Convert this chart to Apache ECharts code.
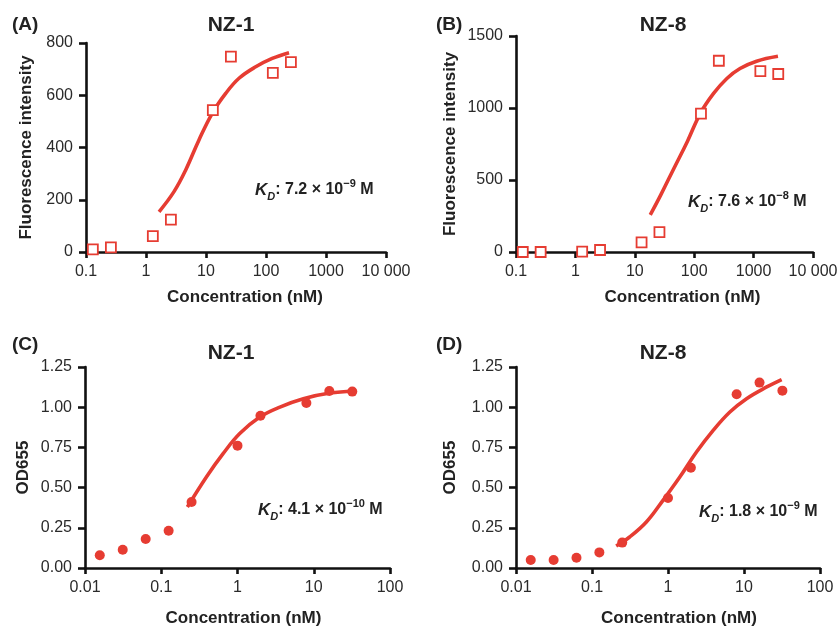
<!DOCTYPE html>
<html><head><meta charset="utf-8">
<script src="https://cdn.jsdelivr.net/npm/echarts@6/dist/echarts.min.js"></script>
<style>html,body{margin:0;padding:0;background:#fff}#c{width:840px;height:627px}</style>
</head><body><div id="c"></div>
<script>
// ---- data ----
const concA = [0.13, 0.26, 1.3, 2.6, 13, 26, 130, 260];
const valA  = [10, 18, 61, 124, 543, 748, 686, 727];
const fitAx = [1.65, 2.93, 4.59, 7.64, 12.7, 21.3, 35.5, 67.4, 127, 242];
const fitAy = [154, 231, 314, 429, 531, 607, 665, 709, 741, 763];

const concB = [0.13, 0.26, 1.3, 2.6, 13, 26, 130, 260, 1300, 2600];
const valB  = [0, 0, 2, 14, 67, 138, 961, 1328, 1256, 1236];
const fitBx = [18.2, 27.4, 45.7, 76.4, 127, 212, 355, 591, 1122, 2570];
const fitBy = [258, 397, 582, 766, 963, 1101, 1205, 1274, 1325, 1359];

const concCD = [0.015625, 0.03125, 0.0625, 0.125, 0.25, 1, 2, 8, 16, 32];
const valC  = [0.079, 0.114, 0.180, 0.232, 0.410, 0.761, 0.947, 1.026, 1.101, 1.097];
const fitCx = [0.22, 0.391, 0.647, 1.07, 1.96, 3.6, 7.3, 16.4, 33.2];
const fitCy = [0.379, 0.566, 0.711, 0.836, 0.939, 1.001, 1.053, 1.088, 1.099];

const valD  = [0.050, 0.050, 0.064, 0.097, 0.158, 0.435, 0.624, 1.080, 1.153, 1.103];
const fitDx = [0.208, 0.313, 0.519, 0.859, 1.43, 2.37, 3.93, 6.52, 10.8, 19.9, 31.3];
const fitDy = [0.137, 0.193, 0.286, 0.421, 0.566, 0.721, 0.856, 0.970, 1.053, 1.126, 1.172];

const xTicksAB = ['0.1', '1', '10', '100', '1000', '10 000'];   // exponents -1..4
const xTicksCD = ['0.01', '0.1', '1', '10', '100'];             // exponents -2..2
const titles = ['NZ-1', 'NZ-8', 'NZ-1', 'NZ-8'];
const panelLabels = ['(A)', '(B)', '(C)', '(D)'];
const kdMant = ['7.2', '7.6', '4.1', '1.8'];
const kdExp = ['−9', '−8', '−10', '−9'];

// ---- styling ----
const FONT = '"Liberation Sans", Arial, Helvetica, sans-serif';
const RED = '#e63c32';
const zip = (a, b) => a.map((v, i) => [v, b[i]]);

const grids = [
  {left: 86, top: 43, width: 300, height: 209, outerBoundsMode: 'none', containLabel: false},
  {left: 516, top: 36, width: 297, height: 216, outerBoundsMode: 'none', containLabel: false},
  {left: 85, top: 367, width: 305, height: 201, outerBoundsMode: 'none', containLabel: false},
  {left: 516, top: 367, width: 304, height: 201, outerBoundsMode: 'none', containLabel: false}
];

function xAxis(i, minE, maxE, labels, padL) {
  return {
    type: 'log', logBase: 10, gridIndex: i,
    min: Math.pow(10, minE), max: Math.pow(10, maxE), splitNumber: maxE - minE,
    name: 'Concentration (nM)', nameLocation: 'middle', nameGap: i < 2 ? 37 : 42,
    nameTextStyle: {fontFamily: FONT, fontWeight: 'bold', fontSize: 17, color: '#222', padding: [0, 0, 0, padL]},
    axisLine: {show: true, lineStyle: {color: '#111', width: 2.6}},
    axisTick: {show: true, length: 6, lineStyle: {color: '#111', width: 2.6}},
    minorTick: {show: false},
    splitLine: {show: false},
    axisLabel: {
      fontFamily: FONT, fontSize: 16, color: '#2a2a2a', margin: 12,
      showMinLabel: true, showMaxLabel: true,
      formatter: v => labels[Math.round(Math.log10(v)) - minE]
    }
  };
}
function yAxis(i, max, interval, name, gap, dec) {
  return {
    type: 'value', gridIndex: i, min: 0, max: max, interval: interval,
    name: name, nameLocation: 'middle', nameGap: gap,
    nameTextStyle: {fontFamily: FONT, fontWeight: 'bold', fontSize: 17, color: '#222'},
    axisLine: {show: true, lineStyle: {color: '#111', width: 2.6}},
    axisTick: {show: true, length: 7, lineStyle: {color: '#111', width: 2.6}},
    splitLine: {show: false},
    axisLabel: {
      fontFamily: FONT, fontSize: 16, color: '#2a2a2a', margin: 13,
      formatter: v => dec ? v.toFixed(2) : String(v)
    }
  };
}
function scatterSquares(i, x, y) {
  return {type: 'scatter', xAxisIndex: i, yAxisIndex: i, data: zip(x, y), symbol: 'rect', symbolSize: 10,
    itemStyle: {color: '#fff', borderColor: RED, borderWidth: 1.8, opacity: 1}, z: 3};
}
function scatterDots(i, x, y) {
  return {type: 'scatter', xAxisIndex: i, yAxisIndex: i, data: zip(x, y), symbol: 'circle', symbolSize: 10,
    itemStyle: {color: RED, opacity: 1}, z: 3};
}
function fit(i, x, y) {
  return {type: 'line', xAxisIndex: i, yAxisIndex: i, data: zip(x, y), smooth: 0.4, showSymbol: false,
    lineStyle: {color: RED, width: 3.6}, z: 2, silent: true};
}

const titlePos = [[231, 25], [663, 25], [231, 353], [663, 353]];
const labelPos = [[12, 25], [436, 25], [12, 345], [436, 345]];
const kdPos = [[255, 190], [688, 202], [258, 510], [699, 512]];

const graphic = [];
for (let i = 0; i < 4; i++) {
  graphic.push({type: 'text', x: titlePos[i][0], y: titlePos[i][1],
    style: {text: titles[i], font: 'bold 21px ' + FONT, fill: '#222', align: 'center', verticalAlign: 'middle'}});
  graphic.push({type: 'text', x: labelPos[i][0], y: labelPos[i][1],
    style: {text: panelLabels[i], font: 'bold 19px ' + FONT, fill: '#222', align: 'left', verticalAlign: 'middle'}});
  graphic.push({type: 'text', x: kdPos[i][0], y: kdPos[i][1],
    style: {
      text: '{k|K}{d|D}{n|: ' + kdMant[i] + ' × 10}{e|' + kdExp[i] + '}{n| M}',
      align: 'left', verticalAlign: 'middle',
      rich: {
        k: {fontFamily: FONT, fontSize: 17, fontWeight: 'bold', fontStyle: 'italic', fill: '#222', lineHeight: 24},
        d: {fontFamily: FONT, fontSize: 11, fontWeight: 'bold', fontStyle: 'italic', fill: '#222', lineHeight: 11, verticalAlign: 'bottom'},
        n: {fontFamily: FONT, fontSize: 16, fontWeight: 'bold', fill: '#222', lineHeight: 24},
        e: {fontFamily: FONT, fontSize: 11, fontWeight: 'bold', fill: '#222', lineHeight: 11, verticalAlign: 'top'}
      }
    }});
}

const chart = echarts.init(document.getElementById('c'), null, {renderer: 'canvas'});
chart.setOption({
  animation: false,
  backgroundColor: '#fff',
  grid: grids,
  xAxis: [xAxis(0, -1, 4, xTicksAB, 18), xAxis(1, -1, 4, xTicksAB, 36), xAxis(2, -2, 2, xTicksCD, 12), xAxis(3, -2, 2, xTicksCD, 22)],
  yAxis: [
    yAxis(0, 800, 200, 'Fluorescence intensity', 51, false),
    yAxis(1, 1500, 500, 'Fluorescence intensity', 57, false),
    yAxis(2, 1.25, 0.25, 'OD655', 53, true),
    yAxis(3, 1.25, 0.25, 'OD655', 57, true)
  ],
  series: [
    fit(0, fitAx, fitAy), scatterSquares(0, concA, valA),
    fit(1, fitBx, fitBy), scatterSquares(1, concB, valB),
    fit(2, fitCx, fitCy), scatterDots(2, concCD, valC),
    fit(3, fitDx, fitDy), scatterDots(3, concCD, valD)
  ],
  graphic: graphic
});
</script></body></html>
